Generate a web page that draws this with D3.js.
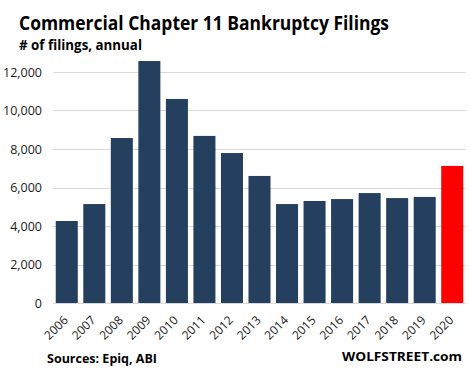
<!DOCTYPE html>
<html>
<head>
<meta charset="utf-8">
<script src="https://cdn.jsdelivr.net/npm/d3@7"></script>
<style>
  body { margin: 0; background: #fff; }
  text { font-family: "Open Sans", "Noto Sans", sans-serif; }
</style>
</head>
<body>
<script>
// Filings per year
var years = ["2006", "2007", "2008", "2009", "2010", "2011", "2012", "2013",
             "2014", "2015", "2016", "2017", "2018", "2019", "2020"];
var filings = [4260, 5140, 8570, 12570, 10600, 8680, 7790, 6600,
               5140, 5300, 5400, 5710, 5450, 5510, 7120];
var yTicks = [0, 2000, 4000, 6000, 8000, 10000, 12000];

var width = 470, height = 375;

var svg = d3.select("body")
            .append("svg")
            .attr("width", width)
            .attr("height", height);

var x = d3.scaleBand()
          .domain(years)
          .range([53, 466])
          .paddingInner(0.2)
          .paddingOuter(0.1);

var y = d3.scaleLinear()
          .domain([0, 12000])
          .range([303, 72]);

// squeeze text to a given width
function fitText(sel, w) {
  sel.attr("textLength", w).attr("lengthAdjust", "spacingAndGlyphs");
}

// gridlines
svg.selectAll(".grid")
   .data(yTicks)
   .enter()
   .append("line")
   .attr("class", "grid")
   .attr("x1", 53)
   .attr("x2", 466)
   .attr("y1", function(d) { return Math.round(y(d)) + 0.5; })
   .attr("y2", function(d) { return Math.round(y(d)) + 0.5; })
   .style("stroke", "#d9d9d9")
   .style("stroke-width", 1);

// bars
svg.selectAll(".bar")
   .data(filings)
   .enter()
   .append("rect")
   .attr("class", "bar")
   .attr("x", function(d, i) { return x(years[i]); })
   .attr("width", x.bandwidth())
   .attr("y", function(d) { return y(d); })
   .attr("height", function(d) { return y(0) - y(d); })
   .style("fill", function(d, i) { return years[i] === "2020" ? "#ff0000" : "#253f5f"; });

// y axis labels
var yAxis = d3.axisLeft(y)
              .tickValues(yTicks)
              .tickSize(0)
              .tickPadding(0)
              .tickFormat(d3.format(","));

var yg = svg.append("g")
            .attr("transform", "translate(42,0)")
            .call(yAxis);
yg.select(".domain").remove();
yg.selectAll("text")
  .style("font-family", "'Open Sans', sans-serif")
  .style("font-size", "12.5px")
  .style("fill", "#1a1a1a");

// x axis labels, rotated
var xAxis = d3.axisBottom(x).tickSize(0).tickPadding(0);
var xg = svg.append("g")
            .attr("transform", "translate(0,303)")
            .call(xAxis);
xg.select(".domain").remove();
xg.selectAll("text")
  .attr("text-anchor", "end")
  .attr("dy", 0)
  .attr("transform", "translate(2,18) rotate(-45)")
  .style("font-family", "'Open Sans', sans-serif")
  .style("font-size", "12px")
  .style("fill", "#1a1a1a");

// titles
var title = svg.append("text")
   .attr("x", 19)
   .attr("y", 30)
   .style("font-size", "19px")
   .style("font-weight", "bold")
   .text("Commercial Chapter 11 Bankruptcy Filings");
fitText(title, 370);

var sub = svg.append("text")
   .attr("x", 19)
   .attr("y", 50)
   .style("font-size", "14px")
   .style("font-weight", "bold")
   .text("# of filings, annual");
fitText(sub, 123);

var src = svg.append("text")
   .attr("x", 47)
   .attr("y", 363)
   .style("font-size", "13px")
   .style("font-weight", "bold")
   .text("Sources: Epiq, ABI");
fitText(src, 110);

var ws = svg.append("text")
   .attr("x", 342)
   .attr("y", 361)
   .style("font-size", "13px")
   .style("font-weight", "bold")
   .text("WOLFSTREET.com");
fitText(ws, 120);
</script>
</body>
</html>
